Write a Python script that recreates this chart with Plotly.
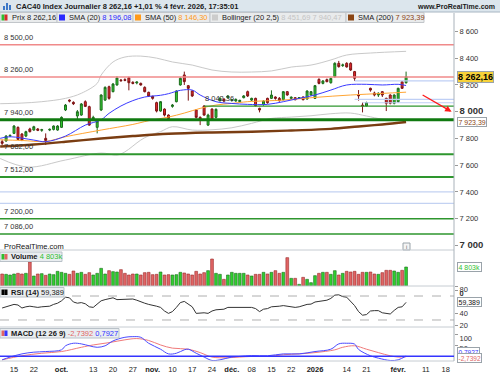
import plotly.graph_objects as go
import pandas as pd

W, H = 500, 375
FONT = "Liberation Sans, Arial, sans-serif"

# ---------------- data ----------------
holidays = ["2025-12-25", "2025-12-26", "2026-01-01"]
first_day, last_day = "2025-09-10", "2026-02-27"

opens = [7776, 7781, 7818,
         7838, 7883, 7833, 7818, 7871, 7863, 7871, 7861, 7801, 7863,
         7868, 7863, 7883, 8013, 8087, 8070, 7968, 7975, 8075, 8038,
         7940, 7883, 8013, 8087, 8187, 8150, 8200, 8237, 8240, 8254,
         8220, 8215, 8212, 8182, 8145, 8115, 8068, 8005, 8020, 7975,
         8040, 8075, 8200, 8275, 8195, 8155, 8013, 7958, 8043, 7900,
         8020, 7958, 8083, 8095, 8105, 8085, 8080, 8075, 8105, 8150,
         8087, 8100, 8025, 8055, 8100, 8100, 8110, 8100, 8090, 8150,
         8100, 8105, 8100, 8110, 8095, 8125, 8100, 8242, 8212, 8240,
         8217, 8262, 8362, 8345, 8362, 8362, 8300, 8125, 8050, 8043,
         8175, 8140, 8125, 8150, 8100, 8125, 8063, 8075, 8224, 8217]
highs = [7790, 7825, 7830,
         7900, 7890, 7840, 7858, 7880, 7895, 7878, 7872, 7838, 7875,
         7898, 7900, 7965, 8058, 8092, 8078, 8013, 8065, 8085, 8045,
         7970, 7935, 8130, 8190, 8195, 8215, 8265, 8245, 8250, 8262,
         8228, 8226, 8218, 8190, 8150, 8120, 8075, 8080, 8025, 7980,
         8058, 8160, 8258, 8300, 8200, 8160, 8020, 7965, 8048, 7985,
         8025, 8025, 8110, 8100, 8125, 8095, 8100, 8090, 8125, 8158,
         8105, 8105, 8030, 8085, 8105, 8160, 8115, 8110, 8155, 8155,
         8115, 8110, 8110, 8115, 8160, 8155, 8200, 8250, 8237, 8248,
         8255, 8370, 8380, 8360, 8370, 8370, 8305, 8162, 8068, 8075,
         8180, 8150, 8145, 8155, 8105, 8130, 8130, 8180, 8230, 8300]
lows = [7751, 7776, 7810,
        7833, 7788, 7780, 7810, 7845, 7858, 7855, 7850, 7751, 7855,
        7860, 7858, 7878, 8005, 8070, 8050, 7938, 7970, 8035, 7895,
        7930, 7838, 8005, 8080, 8090, 8145, 8195, 8225, 8228, 8160,
        8205, 8205, 8195, 8145, 8110, 8090, 7995, 8000, 7965, 7935,
        8030, 8070, 8195, 8200, 8083, 8110, 7950, 7900, 7970, 7893,
        7935, 7950, 8075, 8070, 8100, 8075, 8075, 8070, 8100, 8110,
        8080, 8040, 7995, 8045, 8060, 8095, 8090, 8075, 8085, 8120,
        8095, 8085, 8095, 8085, 8090, 8120, 8095, 8205, 8205, 8220,
        8210, 8255, 8330, 8335, 8330, 8305, 8230, 8083, 7995, 8040,
        8150, 8115, 8110, 8110, 8005, 8055, 8055, 8068, 8170, 8210]
closes = [7764, 7818, 7823,
          7893, 7793, 7788, 7851, 7851, 7888, 7861, 7866, 7785, 7868,
          7893, 7893, 7958, 8050, 8080, 8060, 8000, 8058, 8040, 7900,
          7958, 7930, 8125, 8182, 8100, 8207, 8252, 8232, 8235, 8217,
          8212, 8222, 8200, 8150, 8117, 8100, 8005, 8075, 7975, 7950,
          8050, 8155, 8250, 8225, 8175, 8118, 7958, 7938, 7975, 7975,
          7940, 8018, 8100, 8080, 8118, 8090, 8092, 8085, 8118, 8118,
          8100, 8045, 8013, 8080, 8068, 8125, 8100, 8083, 8150, 8125,
          8108, 8090, 8105, 8090, 8155, 8150, 8195, 8212, 8230, 8225,
          8249, 8362, 8337, 8350, 8335, 8312, 8250, 8120, 8043, 8068,
          8162, 8125, 8138, 8125, 8063, 8063, 8125, 8175, 8175, 8262.16]

volumes_k = [3034, 2949, 2781, 3034, 3202, 3034, 3202, 6067, 2528, 3034,
             3118, 2696, 3034, 2865, 3708, 3455, 3202, 2949, 3792, 3202,
             3455, 2949, 3371, 2781, 3202, 4466, 3034, 3876, 3624, 3539,
             4129, 3202, 2781, 3034, 3034, 2781, 3371, 3455, 2865, 2949,
             3539, 2781, 2865, 2781, 2865, 3455, 3286, 3034, 2781, 3708,
             3034, 3371, 3876, 6826, 3202, 2949, 1685, 2781, 3455, 3202,
             3202, 3202, 2781,
             2528, 2949, 2949, 3455, 3034, 3455, 3876, 3202, 3455, 7163,
             1938, 1938, 421, 2191, 1685, 843, 2612, 3202, 3455, 3455,
             2949, 3876, 2781, 3202, 3708, 3539, 3708, 2949, 3455, 3455,
             3539, 3034, 2949, 3371, 3960, 3960, 3792, 3455, 3960, 4803]

rsi = [50, 52, 55,
       56, 55, 50, 52, 53, 52, 51, 52, 52, 53,
       56, 58, 62, 68, 67, 60, 58, 59, 57, 52,
       51, 56, 62, 64, 65, 67, 64, 64, 64, 64,
       65, 63, 60, 58, 56, 55, 53, 51, 45, 41,
       44, 51, 59, 61, 56, 52, 41, 42, 42, 41,
       45, 47, 48, 48, 51, 51, 51, 51, 51, 52,
       51, 49, 44, 48, 49, 52, 52, 53, 54, 53,
       51, 51, 52, 54, 56, 56.5, 60, 61, 62, 63,
       66, 71.5, 72, 69, 68, 61, 54, 44, 38, 39,
       45, 45.6, 45.6, 42, 41, 40, 46, 51, 52, 59.389]

# indicator curves: (trading-day position, value)
sma20_day = [-0.5, 2, 8, 11, 16, 21, 25, 27, 30, 33, 36, 40, 42, 45, 48, 50, 54, 58, 62, 67, 71, 75, 79, 83, 87, 92, 96, 100, 102]
sma20_val = [7801, 7813, 7788, 7776, 7818, 7900, 7940, 7988, 8043, 8083, 8110, 8123, 8135, 8160, 8162, 8125, 8075, 8062, 8055, 8055, 8075, 8100, 8125, 8162, 8200, 8205, 8200, 8205, 8196.08]

sma50_day = [-0.5, 5, 11, 16, 25, 33, 37, 42, 46, 50, 54, 58, 62, 71, 79, 88, 96, 102]
sma50_val = [7790, 7785, 7778, 7813, 7863, 7905, 7933, 7960, 7990, 8025, 8050, 8062, 8075, 8087, 8107, 8125, 8137, 8146.30]

sma200_day = [-0.5, 8, 16, 25, 33, 42, 53, 63, 73, 83, 90, 96, 102]
sma200_val = [7740, 7755, 7775, 7800, 7818, 7835, 7845, 7850, 7860, 7872, 7890, 7905, 7923.39]

boll_up_day = [-0.5, 5, 10, 16, 20, 24, 25, 28, 31, 35, 39, 43, 48, 53, 58, 63, 68, 73, 78, 83, 87, 93, 102]
boll_up_val = [8060, 8065, 8075, 8100, 8138, 8212, 8274, 8372, 8409, 8416, 8401, 8372, 8349, 8312, 8297, 8297, 8305, 8334, 8349, 8387, 8424, 8439, 8451.69]
boll_lo_day = [-0.5, 6.5, 16, 25, 29, 31, 35, 37, 40, 43, 48, 53, 58, 63, 68, 73, 78, 83, 88, 92, 96, 102]
boll_lo_val = [7650, 7586, 7639, 7691, 7676, 7700, 7788, 7820, 7851, 7888, 7863, 7865, 7880, 7913, 7950, 7960, 7970, 7985, 7990, 7968, 7945, 7940.47]

macd_day = [0, 2, 5, 8, 11, 15, 16, 18, 20, 22, 24, 26, 28, 31, 33, 35, 37, 40, 42, 44, 46, 47, 49, 51, 53, 55, 58, 60, 63, 67, 71, 75, 79, 83, 85, 87, 89, 90, 93, 95, 98, 100, 102]
macd_val = [-17, -4, 11, 19, 22, 30, 49, 61, 58, 49, 42, 49, 72, 89, 92, 89, 61, 33, 11, 14, 30, 33, 14, -4, -20, -17, -4, -1, 3, 2, 11, 11, 22, 33, 58, 61, 57, 32, 2, -9, -20, -17, 0.7927]
signal_day = [0, 5, 10, 15, 20, 23, 27, 31, 34, 37, 40, 43, 47, 50, 53, 57, 60, 63, 67, 71, 75, 79, 84, 86, 89, 92, 95, 98, 100, 102]
signal_val = [-17, 2, 14, 22, 42, 53, 64, 77, 83, 74, 53, 38, 33, 17, -4, -7, -4, -1, -1, 7, 11, 17, 30, 42, 49, 33, 17, 2, -4, -2.7392]

# horizontal levels drawn on the price panel
red_levels = [8500, 8260]
red_labels = ["8 500,00", "8 260,00"]
green_levels = [7940, 7682, 7512, 7200, 7086]
green_labels = ["7 940,00", "7 682,00", "7 512,00", "7 200,00", "7 086,00"]
green_widths = [3.2, 2.2, 2.2, 1.6, 1.6]
short_green_level, short_green_label, short_green_from = 8042, "8 042,36", 51
blue_levels_full = [7400, 7315]
blue_levels_short = [8231, 8093, 8067]
blue_short_from = [89, 89, 91]

price_ticks = [8600, 8400, 8200, 8000, 7800, 7600, 7400, 7200, 7000]
tick_dates = ["2025-09-15", "2025-09-22", "2025-10-01", "2025-10-13", "2025-10-20", "2025-10-27",
              "2025-11-03", "2025-11-10", "2025-11-17", "2025-11-24", "2025-12-01", "2025-12-08",
              "2025-12-15", "2025-12-22", "2026-01-02", "2026-01-14", "2026-01-21", "2026-02-02",
              "2026-02-11", "2026-02-18"]
tick_labels = ["15", "22", "oct.", "13", "20", "27", "nov.", "10", "17", "24", "déc.", "08",
               "15", "22", "2026", "14", "21", "févr.", "11", "18"]
bold_ticks = {"oct.", "nov.", "déc.", "2026", "févr."}

# ---------------- calendar / positions ----------------
cal = pd.bdate_range(first_day, last_day)
cal = cal[~cal.isin(pd.to_datetime(holidays))]
pos = {d.strftime("%Y-%m-%d"): i for i, d in enumerate(cal)}
xs = list(range(len(closes)))
tickvals = [pos[d] for d in tick_dates]
ticktext = [f"<b>{t}</b>" if t in bold_ticks else t for t in tick_labels]


def py(y):
    return 1 - y / H


def px(x):
    return x / W


XR = [-0.54, 114.1]
XD = [0, 454 / W]

UP_FILL, UP_LINE = "#2fcf2f", "#1d6b1d"
DN_FILL, DN_LINE = "#e8282c", "#7c1515"

fig = go.Figure()

# Bollinger, SMAs
for d, v in ((boll_up_day, boll_up_val), (boll_lo_day, boll_lo_val)):
    fig.add_trace(go.Scatter(x=d, y=v, mode="lines", line=dict(color="#c9c9c9", width=1, shape="spline"),
                             xaxis="x", yaxis="y", hoverinfo="skip"))
fig.add_trace(go.Scatter(x=sma200_day, y=sma200_val, mode="lines",
                         line=dict(color="#7a3d12", width=2.4, shape="spline"), xaxis="x", yaxis="y"))
fig.add_trace(go.Scatter(x=sma50_day, y=sma50_val, mode="lines",
                         line=dict(color="#ffa533", width=1, shape="spline"), xaxis="x", yaxis="y"))
fig.add_trace(go.Scatter(x=sma20_day, y=sma20_val, mode="lines",
                         line=dict(color="#3a3aff", width=1, shape="spline"), xaxis="x", yaxis="y"))

# candles
fig.add_trace(go.Candlestick(
    x=xs, open=opens, high=highs, low=lows, close=closes, whiskerwidth=0,
    increasing=dict(line=dict(color=UP_LINE, width=1), fillcolor=UP_FILL),
    decreasing=dict(line=dict(color=DN_LINE, width=1), fillcolor=DN_FILL),
    xaxis="x", yaxis="y"))

# volume
vcol = [UP_FILL if c >= o else "#e06464" for o, c in zip(opens, closes)]
vline = [UP_LINE if c >= o else "#9a2a2a" for o, c in zip(opens, closes)]
fig.add_trace(go.Bar(x=xs, y=volumes_k, marker=dict(color=vcol, line=dict(color=vline, width=0.6)),
                     xaxis="x", yaxis="y2"))

# RSI
fig.add_trace(go.Scatter(x=xs, y=rsi, mode="lines", line=dict(color="#333333", width=1),
                         xaxis="x", yaxis="y3"))

# MACD
fig.add_trace(go.Scatter(x=signal_day, y=signal_val, mode="lines",
                         line=dict(color="#f07a7a", width=1, shape="spline"), xaxis="x", yaxis="y4"))
fig.add_trace(go.Scatter(x=macd_day, y=macd_val, mode="lines",
                         line=dict(color="#4a4aff", width=1, shape="spline"), xaxis="x", yaxis="y4"))

shapes = []
annotations = []

# title bar
shapes.append(dict(type="rect", xref="paper", yref="paper", x0=0, x1=1, y0=py(12), y1=1,
                   fillcolor="#dce6ed", line=dict(width=0), layer="below"))
shapes.append(dict(type="line", xref="paper", yref="paper", x0=0, x1=1, y0=py(12), y1=py(12),
                   line=dict(color="#a8b6c2", width=1)))
for i, hgt in enumerate([4, 7, 5]):
    shapes.append(dict(type="rect", xref="paper", yref="paper", x0=px(3 + i * 3), x1=px(5 + i * 3),
                       y0=py(10), y1=py(10 - hgt), fillcolor="#3c78c8", line=dict(width=0)))
annotations.append(dict(xref="paper", yref="paper", x=px(14), y=py(6), xanchor="left", yanchor="middle",
                        text="<b>CAC40 Index Journalier 8 262,16 +1,01 % 4 févr. 2026, 17:35:01</b>",
                        showarrow=False, font=dict(size=7.5, color="#1a1a1a", family=FONT)))
annotations.append(dict(xref="paper", yref="paper", x=px(497), y=py(6), xanchor="right", yanchor="middle",
                        text="<b>www.ProRealTime.com</b>", showarrow=False,
                        font=dict(size=7, color="#1a1a1a", family=FONT)))

# legend row
leg = [(0, 57, None, "Prix ", "8 262,16", "#1a1a1a"),
       (57, 133, "#2a2aff", "SMA (20) ", "8 196,08", "#2a2aff"),
       (133, 210, "#ff9a1a", "SMA (50) ", "8 146,30", "#ff9a1a"),
       (210, 346, "#cccccc", "Bollinger (20 2,5) ", "8 451,69 7 940,47", "#c4c4c4"),
       (346, 424, "#8b4513", "SMA (200) ", "7 923,39", "#8b4513")]
for x0, x1, sq, name, val, vc in leg:
    shapes.append(dict(type="rect", xref="paper", yref="paper", x0=px(x0), x1=px(x1), y0=py(22.5), y1=py(12.5),
                       fillcolor="#e9ebec", line=dict(color="#c2c6ca", width=1)))
    if sq is None:
        shapes.append(dict(type="rect", xref="paper", yref="paper", x0=px(1.5), x1=px(4.5), y0=py(20.5),
                           y1=py(14.5), fillcolor="#2fbf2f", line=dict(width=0)))
        shapes.append(dict(type="rect", xref="paper", yref="paper", x0=px(4.5), x1=px(7.5), y0=py(20.5),
                           y1=py(14.5), fillcolor="#d42a2a", line=dict(width=0)))
    else:
        shapes.append(dict(type="rect", xref="paper", yref="paper", x0=px(x0 + 2), x1=px(x0 + 8), y0=py(20.5),
                           y1=py(14.5), fillcolor=sq, line=dict(width=0)))
    annotations.append(dict(xref="paper", yref="paper", x=px(x0 + 10), y=py(17.6), xanchor="left",
                            yanchor="middle", showarrow=False,
                            text=f"{name}<span style='color:{vc}'>{val}</span>",
                            font=dict(size=7.5, color="#1a1a1a", family=FONT)))

# price panel level lines
for lv, lb in zip(red_levels, red_labels):
    shapes.append(dict(type="line", xref="x domain", yref="y", x0=0, x1=1, y0=lv, y1=lv,
                       line=dict(color="#f08a8a", width=1.5)))
    annotations.append(dict(xref="paper", yref="y", x=px(2), y=lv, xanchor="left", yanchor="bottom",
                            yshift=1, text=lb, showarrow=False, font=dict(size=7.5, color="#333", family=FONT)))
for lv, lb, wd in zip(green_levels, green_labels, green_widths):
    shapes.append(dict(type="line", xref="x domain", yref="y", x0=0, x1=1, y0=lv, y1=lv,
                       line=dict(color="#107a10" if wd > 3 else "#2e962e", width=wd)))
    annotations.append(dict(xref="paper", yref="y", x=px(2), y=lv, xanchor="left", yanchor="bottom",
                            yshift=1, text=lb, showarrow=False, font=dict(size=7.5, color="#333", family=FONT)))
shapes.append(dict(type="line", xref="x", yref="y", x0=short_green_from, x1=XR[1], y0=short_green_level,
                   y1=short_green_level, line=dict(color="#2e962e", width=1.2)))
annotations.append(dict(xref="x", yref="y", x=short_green_from - 0.3, y=short_green_level, xanchor="left",
                        yanchor="bottom", yshift=1, text=short_green_label, showarrow=False,
                        font=dict(size=7.5, color="#333", family=FONT)))
for lv in blue_levels_full:
    shapes.append(dict(type="line", xref="x domain", yref="y", x0=0, x1=1, y0=lv, y1=lv,
                       line=dict(color="#c3d2f2", width=1.2)))
for lv, fr in zip(blue_levels_short, blue_short_from):
    shapes.append(dict(type="line", xref="x", yref="y", x0=fr, x1=XR[1], y0=lv, y1=lv,
                       line=dict(color="#bfcff5", width=1.2)))

# red arrow
annotations.append(dict(xref="x", yref="y", axref="x", ayref="y", x=113.5, y=8000, ax=105.8, ay=8132,
                        text="", showarrow=True, arrowhead=2, arrowsize=1, arrowwidth=1.3,
                        arrowcolor="#ff1a1a"))

# watermark & info icon
annotations.append(dict(xref="paper", yref="paper", x=px(2), y=py(246.5), xanchor="left", yanchor="middle",
                        text="ProRealTime.com", showarrow=False, font=dict(size=7.5, color="#111", family=FONT)))
shapes.append(dict(type="rect", xref="paper", yref="paper", x0=px(403), x1=px(410), y0=py(250), y1=py(243),
                   fillcolor="#f4f4f4", line=dict(color="#9aa4aa", width=1)))
annotations.append(dict(xref="paper", yref="paper", x=px(406.5), y=py(246.5), xanchor="center",
                        yanchor="middle", text="i", showarrow=False, borderpad=0,
                        font=dict(size=5.5, color="#555", family=FONT)))

# panel separators and axis line
for yy in (250, 286, 327, 361):
    shapes.append(dict(type="line", xref="paper", yref="paper", x0=0, x1=px(454), y0=py(yy), y1=py(yy),
                       line=dict(color="#c6ccd2", width=1)))
shapes.append(dict(type="line", xref="paper", yref="paper", x0=px(454), x1=px(454), y0=py(361), y1=py(13),
                   line=dict(color="#a9b2ba", width=1)))

# RSI dashed levels, MACD zero line
for lv in (70, 30):
    shapes.append(dict(type="line", xref="x domain", yref="y3", x0=0, x1=1, y0=lv, y1=lv,
                       line=dict(color="#9a9a9a", width=0.8, dash="dash")))
shapes.append(dict(type="line", xref="x domain", yref="y4", x0=0, x1=1, y0=0, y1=0,
                   line=dict(color="#3434ff", width=1.6)))

# panel caption boxes
caps = [(252, 261.5, 62, "<b>Volume</b> <span style='color:#2fbf2f'>4 803k</span>", ("#2fbf2f", "#e06464")),
        (287.5, 297, 64, "<b>RSI (14)</b> 59,389", ("#000000", "#000000")),
        (328.5, 338, 119, "<b>MACD (12 26 9)</b> <span style='color:#e06464'>-2,7392</span> "
                          "<span style='color:#3434ff'>0,7927</span>", ("#e06464", "#3434ff"))]
for y0, y1, w, txt, (c1, c2) in caps:
    shapes.append(dict(type="rect", xref="paper", yref="paper", x0=0, x1=px(w), y0=py(y1), y1=py(y0),
                       fillcolor="#e9edf0", line=dict(color="#b9c1c8", width=1)))
    shapes.append(dict(type="rect", xref="paper", yref="paper", x0=px(1.5), x1=px(4.5), y0=py(y1 - 2),
                       y1=py(y0 + 2), fillcolor=c1, line=dict(width=0)))
    shapes.append(dict(type="rect", xref="paper", yref="paper", x0=px(4.5), x1=px(7.5), y0=py(y1 - 2),
                       y1=py(y0 + 2), fillcolor=c2, line=dict(width=0)))
    annotations.append(dict(xref="paper", yref="paper", x=px(9), y=py((y0 + y1) / 2), xanchor="left",
                            yanchor="middle", text=txt, showarrow=False,
                            font=dict(size=7.5, color="#1a1a1a", family=FONT)))


# right-hand value boxes
def vbox(yref, val, text, color, bg="#ffffff", bold=False, size=7, pad=0.5):
    annotations.append(dict(xref="paper", yref=yref, x=px(457), y=val, xanchor="left", yanchor="middle",
                            text=f"<b>{text}</b>" if bold else text, showarrow=False, bgcolor=bg,
                            bordercolor="#9aa3aa", borderwidth=1, borderpad=pad,
                            font=dict(size=size, color=color, family=FONT)))


vbox("y", closes[-1], "8 262,16", "#000000", bg="#f7d23a", bold=True, size=9, pad=0)
vbox("y", sma200_val[-1], "7 923,39", "#8b4513")
vbox("y2", volumes_k[-1], "4 803k", "#33c233")
vbox("y3", rsi[-1], "59,389", "#111111")
vbox("y4", 20, "0,7927", "#3434ff", size=6.5)
vbox("y4", -8, "-2,7392", "#e06464", size=6.5)

axis_font = dict(size=7.5, color="#333", family=FONT)
common_y = dict(side="right", anchor="x", showgrid=False, zeroline=False, ticks="outside", ticklen=3,
                tickcolor="#999", tickfont=axis_font, fixedrange=True, automargin=False)

price_text = [f"<span style='font-size:9.5px'><b>{t:,}</b></span>".replace(",", " ") if t % 1000 == 0
              else f"{t:,}".replace(",", " ") for t in price_ticks]

fig.update_layout(
    width=W, height=H, margin=dict(l=0, r=0, t=0, b=0, pad=0, autoexpand=False), autosize=False,
    paper_bgcolor="white", plot_bgcolor="white", showlegend=False,
    font=dict(family=FONT, size=7.5, color="#333"),
    bargap=0.3,
    xaxis=dict(domain=XD, range=XR, anchor="y4", showgrid=False, zeroline=False, automargin=False,
               tickvals=tickvals, ticktext=ticktext, ticks="", ticklabelstandoff=2,
               tickfont=dict(size=7.5, color="#222", family=FONT),
               rangeslider=dict(visible=False), showline=False),
    yaxis=dict(domain=[py(250), py(22)], range=[6966, 8671], tickvals=price_ticks, ticktext=price_text,
               **common_y),
    yaxis2=dict(domain=[py(286), py(250)], range=[0, 9100], tickvals=[0], ticktext=["<b>0</b>"],
                ticklabelshift=7, **common_y),
    yaxis3=dict(domain=[py(327), py(286)], range=[18.3, 86.7], tickvals=[80, 40, 20], ticklabelshift=-1,
                **common_y),
    yaxis4=dict(domain=[py(361), py(327)], range=[-22.5, 137.4], tickvals=[100, 50], ticklabelshift=3,
                **common_y),
    shapes=shapes, annotations=annotations,
)

fig.write_html("out.html", config={"displayModeBar": False, "staticPlot": True},
               post_script="document.body.style.margin='0';document.body.style.overflow='hidden';"
                           "document.documentElement.style.overflow='hidden';")
